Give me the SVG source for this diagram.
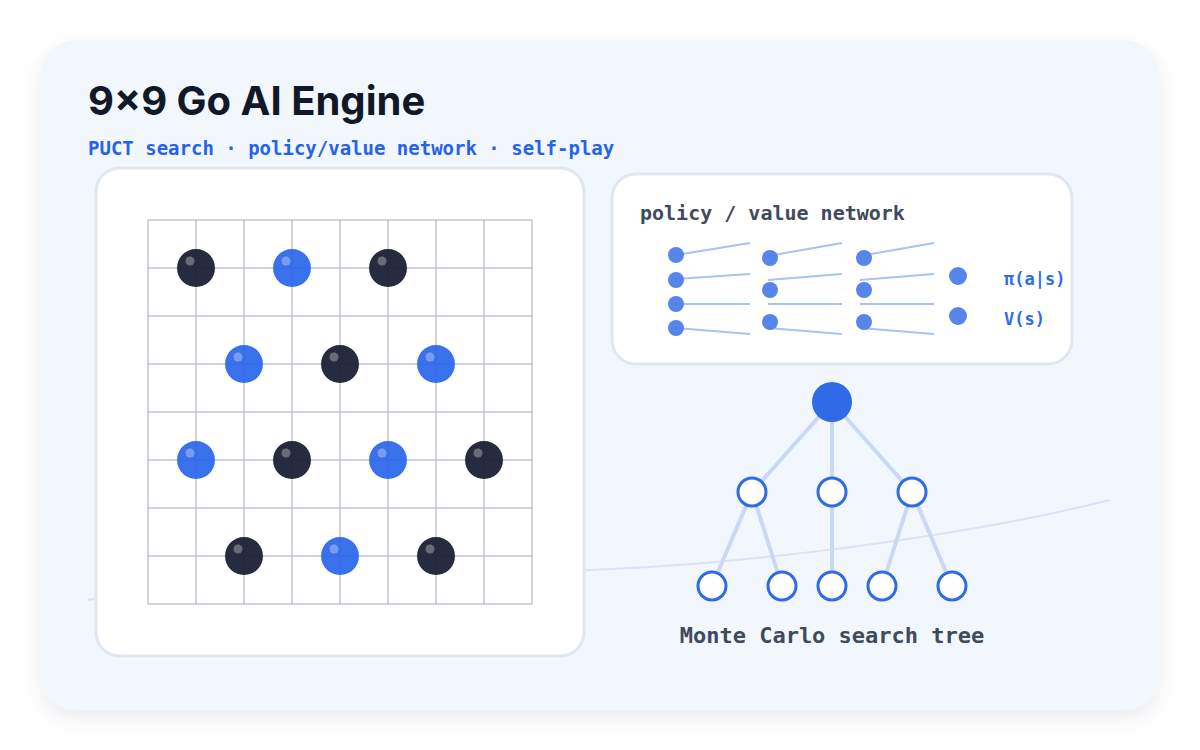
<svg xmlns="http://www.w3.org/2000/svg" width="1200" height="750" viewBox="0 0 1200 750">
<defs>
<filter id="sh" x="-10%" y="-10%" width="120%" height="125%"><feDropShadow dx="0" dy="8" stdDeviation="10" flood-color="#1e293b" flood-opacity="0.08"/></filter>
<style>
.g{stroke:#c4c6cf;stroke-width:1.5}
.b{fill:#1a2033;opacity:0.95}
.w{fill:#2563eb;opacity:0.9}
.hl{fill:#fff;opacity:0.3}
.n{fill:#4f7fe8;opacity:0.95}
.nl{stroke:#a9c1f3;stroke-width:2}
.te{stroke:#c9d8f7;stroke-width:4}
.tc{fill:#fff;stroke:#2f6be6;stroke-width:3}
.mono{font-family:"DejaVu Sans Mono","Liberation Mono",monospace;font-weight:bold}
</style>
</defs>
<rect width="1200" height="750" fill="#fff"/>
<rect x="40" y="40" width="1120" height="670" rx="36" fill="#f2f6fd" filter="url(#sh)"/>
<path d="M88 600 C300 560 450 575 590 570 S950 540 1110 500" fill="none" stroke="#d9e3f5" stroke-width="2"/>
<text x="88" y="115" font-family="Inter,'Liberation Sans',sans-serif" font-weight="bold" font-size="40" fill="#111827">9×9 Go AI Engine</text>
<text x="88" y="155" class="mono" font-size="19" fill="#2563eb">PUCT search · policy/value network · self-play</text>
<g id="board">
<rect x="96" y="168" width="488" height="488" rx="24" fill="#fff" stroke="#e1e7f1" stroke-width="3"/>
<g class="g">
<path d="M148 220V604M196 220V604M244 220V604M292 220V604M340 220V604M388 220V604M436 220V604M484 220V604M532 220V604M148 220H532M148 268H532M148 316H532M148 364H532M148 412H532M148 460H532M148 508H532M148 556H532M148 604H532"/>
</g>
<circle class="b" cx="196" cy="268" r="19"/><circle class="w" cx="292" cy="268" r="19"/><circle class="b" cx="388" cy="268" r="19"/>
<circle class="w" cx="244" cy="364" r="19"/><circle class="b" cx="340" cy="364" r="19"/><circle class="w" cx="436" cy="364" r="19"/>
<circle class="w" cx="196" cy="460" r="19"/><circle class="b" cx="292" cy="460" r="19"/><circle class="w" cx="388" cy="460" r="19"/><circle class="b" cx="484" cy="460" r="19"/>
<circle class="b" cx="244" cy="556" r="19"/><circle class="w" cx="340" cy="556" r="19"/><circle class="b" cx="436" cy="556" r="19"/>
<g class="hl">
<circle cx="190" cy="261" r="4.5"/><circle cx="286" cy="261" r="4.5"/><circle cx="382" cy="261" r="4.5"/>
<circle cx="238" cy="357" r="4.5"/><circle cx="334" cy="357" r="4.5"/><circle cx="430" cy="357" r="4.5"/>
<circle cx="190" cy="453" r="4.5"/><circle cx="286" cy="453" r="4.5"/><circle cx="382" cy="453" r="4.5"/><circle cx="478" cy="453" r="4.5"/>
<circle cx="238" cy="549" r="4.5"/><circle cx="334" cy="549" r="4.5"/><circle cx="430" cy="549" r="4.5"/>
</g>
</g>
<g id="network">
<rect x="612" y="174" width="460" height="190" rx="24" fill="#fff" stroke="#e1e7f1" stroke-width="3"/>
<text x="640" y="220" class="mono" font-size="20" fill="#3f4a5c">policy / value network</text>
<g class="nl">
<path d="M676 255L750 243M676 279L750 274M676 304L750 304M676 328L750 334"/>
<path d="M768 256L842 243M768 280L842 274M768 304L842 304M768 328L842 334"/>
<path d="M860 256L934 243M860 280L934 274M860 304L934 304M860 328L934 334"/>
</g>
<g class="n">
<circle cx="676" cy="255" r="8"/><circle cx="676" cy="280" r="8"/><circle cx="676" cy="304" r="8"/><circle cx="676" cy="328" r="8"/>
<circle cx="770" cy="258" r="8"/><circle cx="770" cy="290" r="8"/><circle cx="770" cy="322" r="8"/>
<circle cx="864" cy="258" r="8"/><circle cx="864" cy="290" r="8"/><circle cx="864" cy="322" r="8"/>
<circle cx="958" cy="276" r="9"/><circle cx="958" cy="316" r="9"/>
</g>
<text x="1004" y="285" class="mono" font-size="17" fill="#2f6be6">π(a|s)</text>
<text x="1004" y="325" class="mono" font-size="17" fill="#2f6be6">V(s)</text>
</g>
<g id="connectors" class="te">
<path d="M832 402L752 492M832 402L832 492M832 402L912 492M752 492L712 586M752 492L782 586M832 492L832 586M912 492L882 586M912 492L952 586"/>
</g>
<g id="tree">
<circle cx="832" cy="402" r="20" fill="#2f6be6"/>
<circle class="tc" cx="752" cy="492" r="14"/><circle class="tc" cx="832" cy="492" r="14"/><circle class="tc" cx="912" cy="492" r="14"/>
<circle class="tc" cx="712" cy="586" r="14"/><circle class="tc" cx="782" cy="586" r="14"/><circle class="tc" cx="832" cy="586" r="14"/><circle class="tc" cx="882" cy="586" r="14"/><circle class="tc" cx="952" cy="586" r="14"/>
<text x="832" y="643" text-anchor="middle" class="mono" font-size="22" fill="#3f4a5c">Monte Carlo search tree</text>
</g>
</svg>
